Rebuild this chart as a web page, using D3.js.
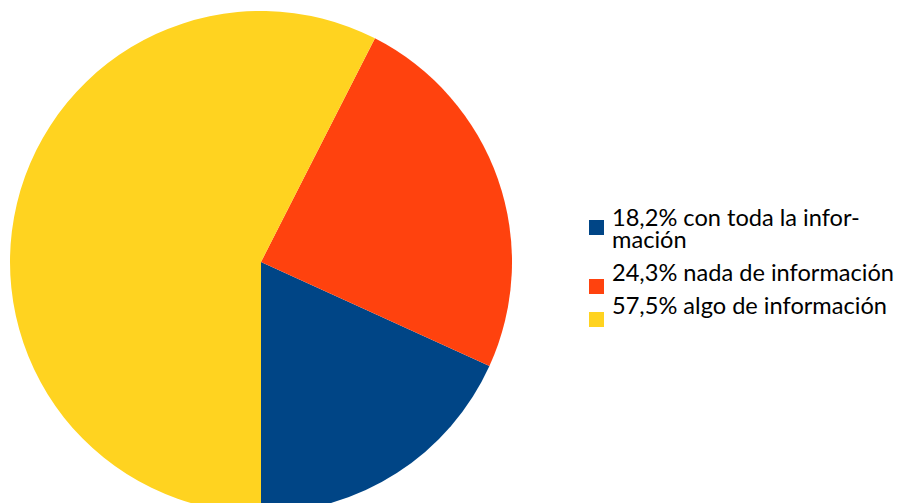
<!DOCTYPE html>
<html>
<head>
<meta charset="utf-8">
<script src="https://cdn.jsdelivr.net/npm/d3@7"></script>
<style>
  body { margin: 0; background: #fff; }
  svg { display: block; }
  text { font-family: Lato, "Open Sans", sans-serif; fill: #000; }
</style>
</head>
<body>
<div id="chart"></div>
<script>
const w = 904;
const h = 503;

// shares of each answer, in percent
const categories = ["con toda la información", "nada de información", "algo de información"];
const values = [18.2, 24.3, 57.5];
const colors = ["#004586", "#ff420e", "#ffd320"];
// legend text as drawn (first one wraps onto two lines)
const legendLines = [
  ["18,2% con toda la infor-", "mación"],
  ["24,3% nada de información"],
  ["57,5% algo de información"]
];

const cx = 261;
const cy = 262;
const radius = 251;

const svg = d3.select("#chart").append("svg").attr("width", w).attr("height", h);

//Pie starts at 6 o'clock and runs counterclockwise
const pie = d3.pie().sort(null).startAngle(Math.PI).endAngle(-Math.PI);
const arc = d3.arc().innerRadius(0).outerRadius(radius);

svg.append("g")
  .attr("transform", `translate(${cx}, ${cy})`)
  .selectAll("path")
  .data(pie(values))
  .enter()
  .append("path")
  .attr("d", arc)
  .attr("fill", (d, i) => colors[i]);

//Legend
const legendX = 589;
const lineH = 22;
const baselines = [226, 281, 314];
const squareTops = [220, 279, 312];
const sq = 15;

const legend = svg.append("g");
legendLines.forEach((lines, i) => {
  legend.append("rect")
    .attr("x", legendX)
    .attr("y", squareTops[i])
    .attr("width", sq)
    .attr("height", sq)
    .attr("fill", colors[i]);
  const t = legend.append("text")
    .attr("x", legendX + 23)
    .attr("y", baselines[i])
    .attr("font-size", 23.6);
  lines.forEach((line, j) => {
    t.append("tspan")
      .attr("x", legendX + 23)
      .attr("dy", j === 0 ? 0 : lineH)
      .text(line);
  });
});
</script>
</body>
</html>
